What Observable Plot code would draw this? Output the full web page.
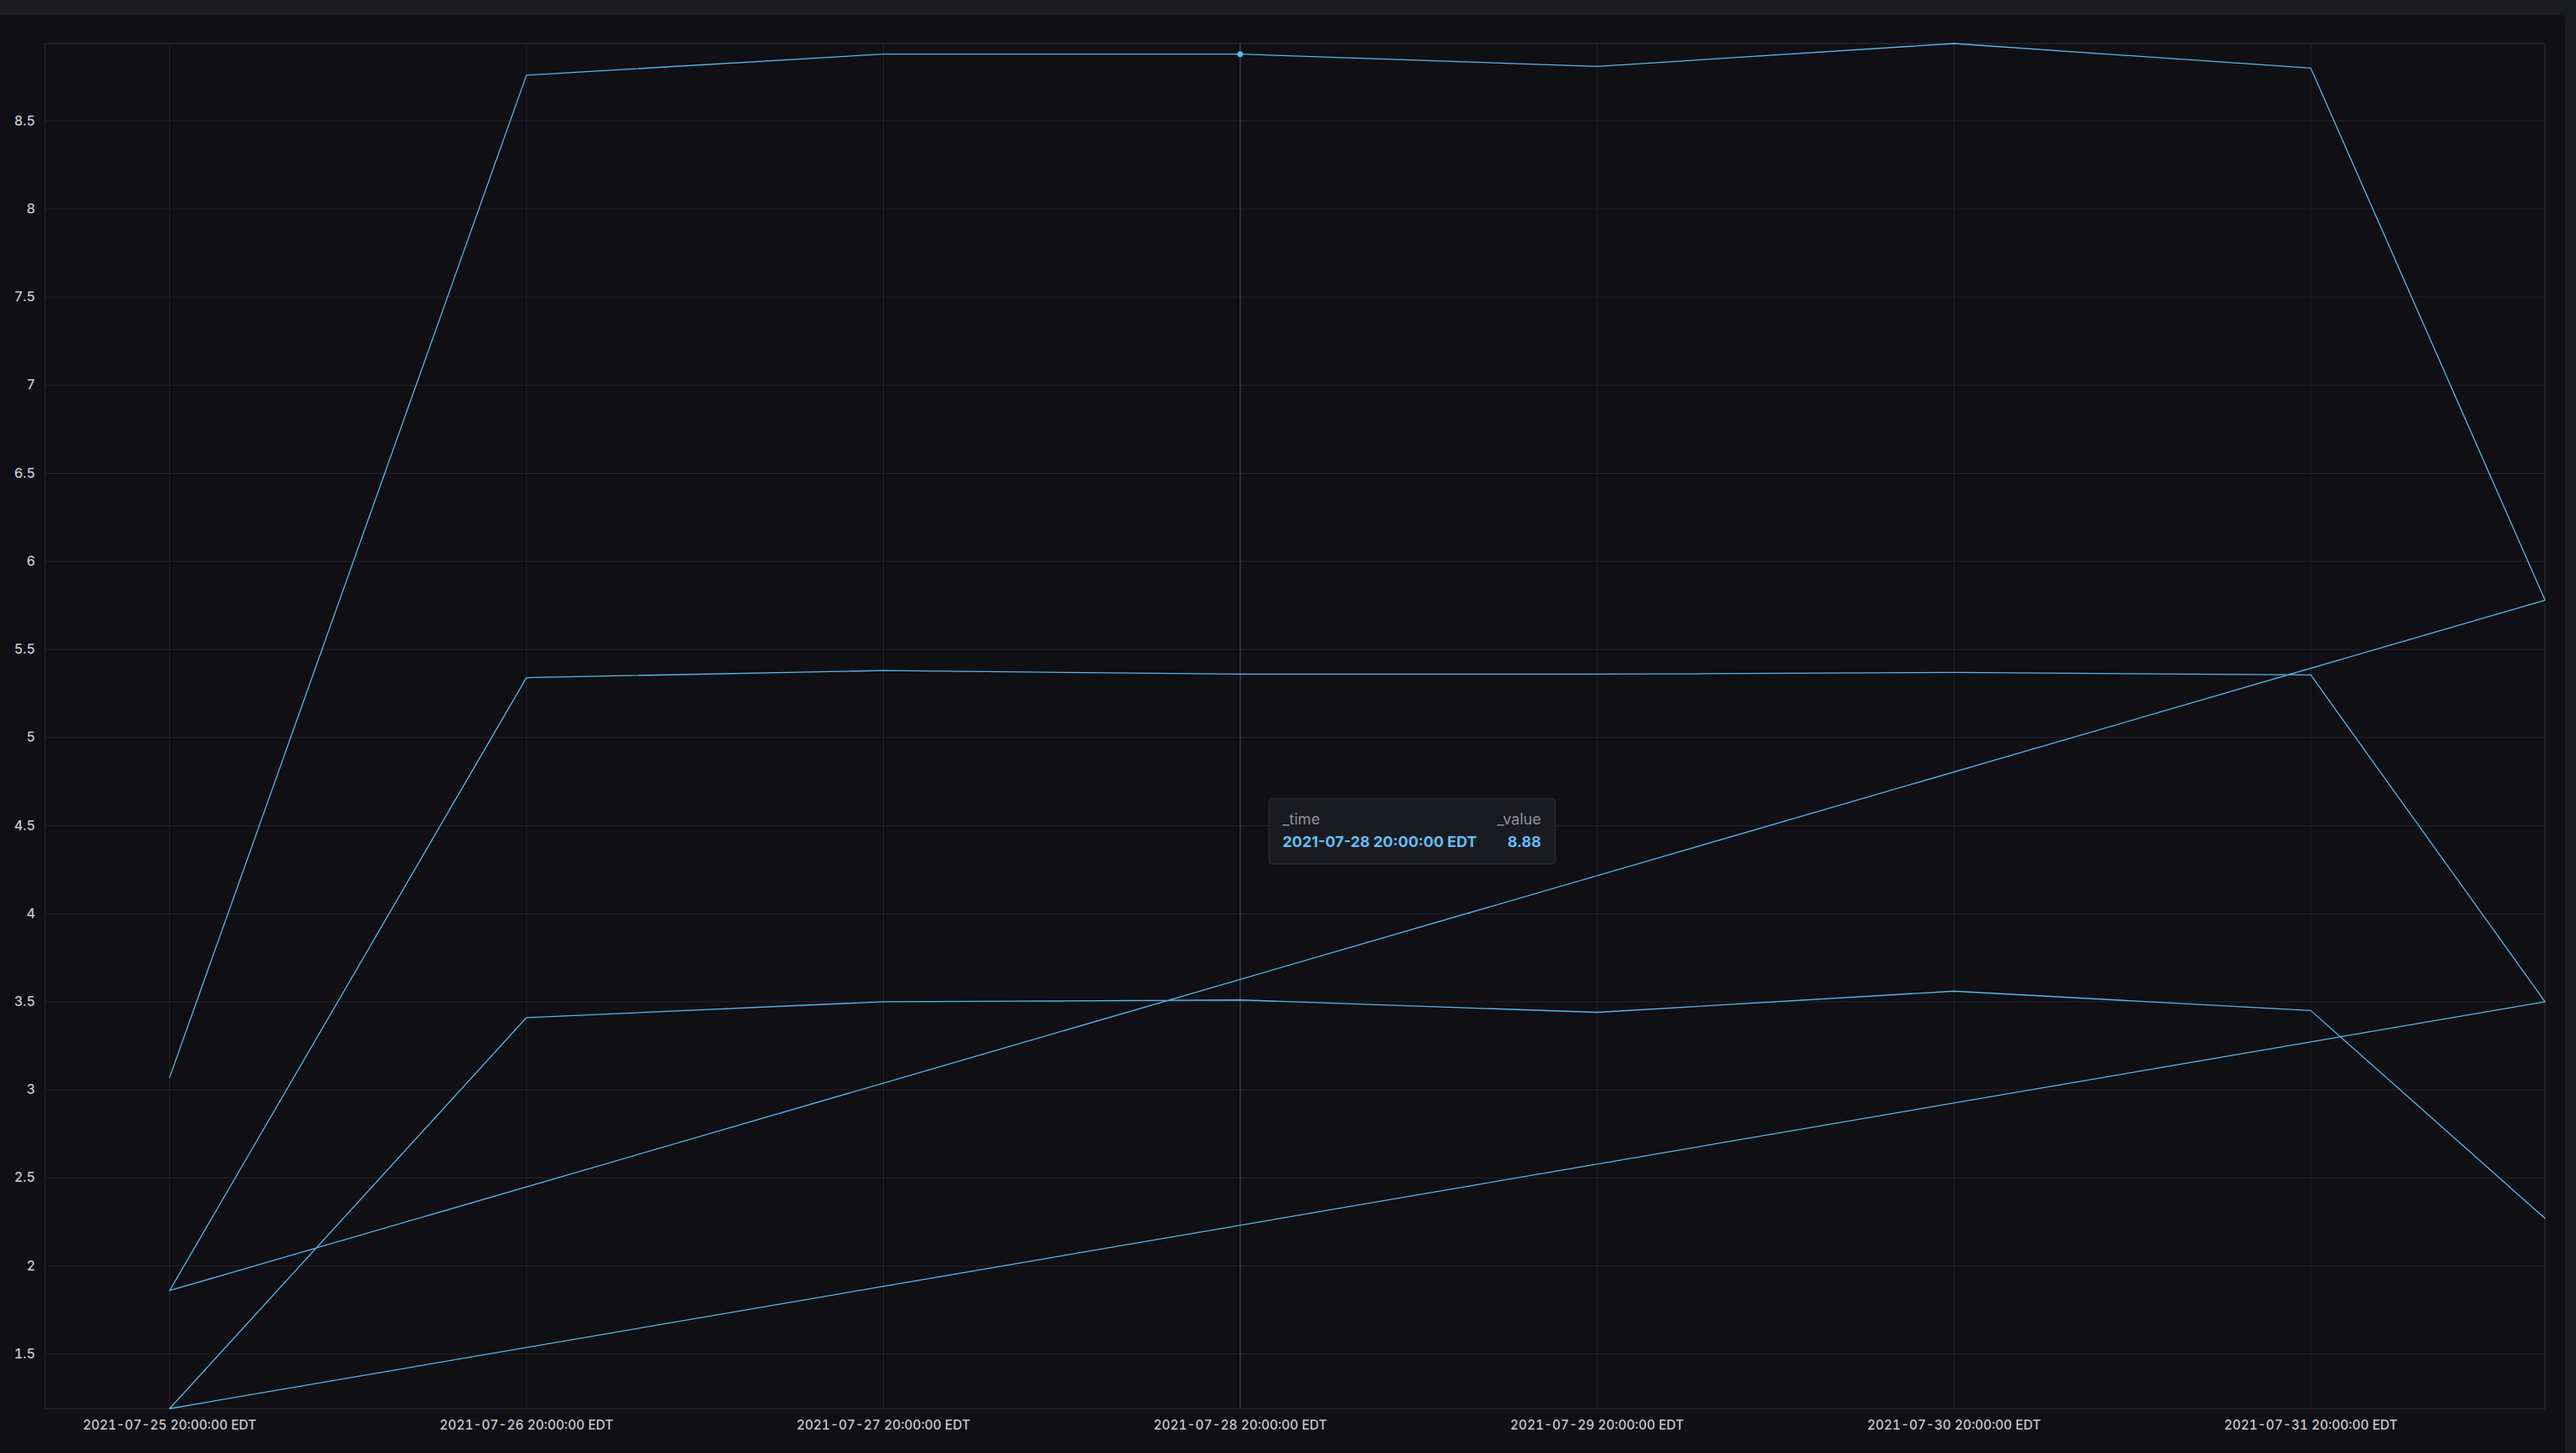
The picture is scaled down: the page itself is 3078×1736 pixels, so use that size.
<!DOCTYPE html>
<html><head><meta charset="utf-8">
<script src="https://cdn.jsdelivr.net/npm/d3@7"></script>
<script src="https://cdn.jsdelivr.net/npm/@observablehq/plot@0.6"></script>
<style>
html,body{margin:0;padding:0;background:#1b1c21;width:3078px;height:1736px;overflow:hidden}
#panel{position:absolute;left:0;top:18px;width:3065px;height:1718px;background:#0f0f14;border-top-right-radius:5px}
#panel svg{display:block}
</style></head><body><div id="panel"></div>
<script>
// Times are local EDT (UTC-4)
const times = ["2021-07-25T20:00","2021-07-26T20:00","2021-07-27T20:00","2021-07-28T20:00",
  "2021-07-29T20:00","2021-07-30T20:00","2021-07-31T20:00","2021-08-01T11:45"];
const seriesA = [3.07, 8.76, 8.88, 8.88, 8.81, 8.94, 8.80, 5.78];
const seriesB = [1.86, 5.34, 5.38, 5.36, 5.36, 5.37, 5.355, 3.50];
const seriesC = [1.19, 3.41, 3.50, 3.51, 3.44, 3.56, 3.45, 2.27];
const xTickTimes = ["2021-07-25T20:00","2021-07-26T20:00","2021-07-27T20:00","2021-07-28T20:00",
  "2021-07-29T20:00","2021-07-30T20:00","2021-07-31T20:00"];
const yTicks = [1.5,2,2.5,3,3.5,4,4.5,5,5.5,6,6.5,7,7.5,8,8.5];
const xDomainTimes = ["2021-07-25T11:38","2021-08-01T11:45"];
const hoverTime = "2021-07-28T20:00";
const hoverValue = 8.88;
const cursorValue = 4.65;

const parseEDT = s => new Date(s + ":00-04:00");
const fmtEDT = d => d3.utcFormat("%Y-%m-%d %H:%M:%S")(new Date(+d - 4*3600e3)) + " EDT";

const rows = [];
for (const s of [seriesA, seriesB, seriesC]) {
  s.forEach((v, i) => rows.push({time: parseEDT(times[i]), value: v}));
}
const hover = parseEDT(hoverTime);

const lineColor = "#56b8ec";
const gridColor = "#24252b";
const textColor = "#c7c8ce";
const W = 3065, H = 1718;

const tooltip = (index, scales, values, dims) => {
  const x0 = scales.x(hover) + 35, y0 = scales.y(cursorValue);
  const g = d3.create("svg:g");
  g.append("rect").attr("x", x0).attr("y", y0).attr("width", 342).attr("height", 78)
    .attr("rx", 4).attr("fill", "#1a1b20").attr("stroke", "#26272d").attr("stroke-width", 1.5);
  const t = (x, y, txt, anchor, fill, weight) => g.append("text").attr("x", x).attr("y", y)
    .attr("text-anchor", anchor).attr("fill", fill).attr("font-weight", weight)
    .attr("font-family", "Inter, sans-serif").attr("font-size", 18).text(txt);
  t(x0 + 16, y0 + 31, "_time", "start", "#8f909a", 400);
  t(x0 + 325, y0 + 31, "_value", "end", "#8f909a", 400);
  t(x0 + 16, y0 + 58, fmtEDT(hover), "start", "#62bff4", 700);
  t(x0 + 325, y0 + 58, d3.format(".2f")(hoverValue), "end", "#62bff4", 700);
  return g.node();
};

const chart = Plot.plot({
  width: W, height: H,
  marginLeft: 53.5, marginTop: 33.5, marginRight: 24.5, marginBottom: 53.5,
  style: {background: "transparent", color: textColor, fontFamily: "Inter, sans-serif", fontSize: "16px", fontWeight: 500},
  x: {type: "time", domain: xDomainTimes.map(parseEDT)},
  y: {},
  marks: [
    Plot.gridX(xTickTimes.map(parseEDT), {stroke: gridColor, strokeOpacity: 1, strokeWidth: 1}),
    Plot.gridY(yTicks, {stroke: gridColor, strokeOpacity: 1, strokeWidth: 1}),
    Plot.frame({stroke: "#2a2b31", strokeWidth: 1.2}),
    Plot.axisX(xTickTimes.map(parseEDT), {tickSize: 0, tickPadding: 14, tickFormat: fmtEDT, label: null, fill: textColor, fontSize: 15.5}),
    Plot.axisY(yTicks, {tickSize: 0, tickPadding: 12, tickFormat: d => String(d), label: null, fill: textColor}),
    Plot.ruleX([hover], {stroke: "#3b3c45", strokeWidth: 1.5}),
    Plot.line(rows, {x: "time", y: "value", stroke: lineColor, strokeWidth: 1.3, curve: "linear"}),
    Plot.dot([{time: hover, value: hoverValue}], {x: "time", y: "value", r: 3.5, fill: lineColor, stroke: null}),
    tooltip
  ]
});
document.getElementById("panel").appendChild(chart);
</script></body></html>
